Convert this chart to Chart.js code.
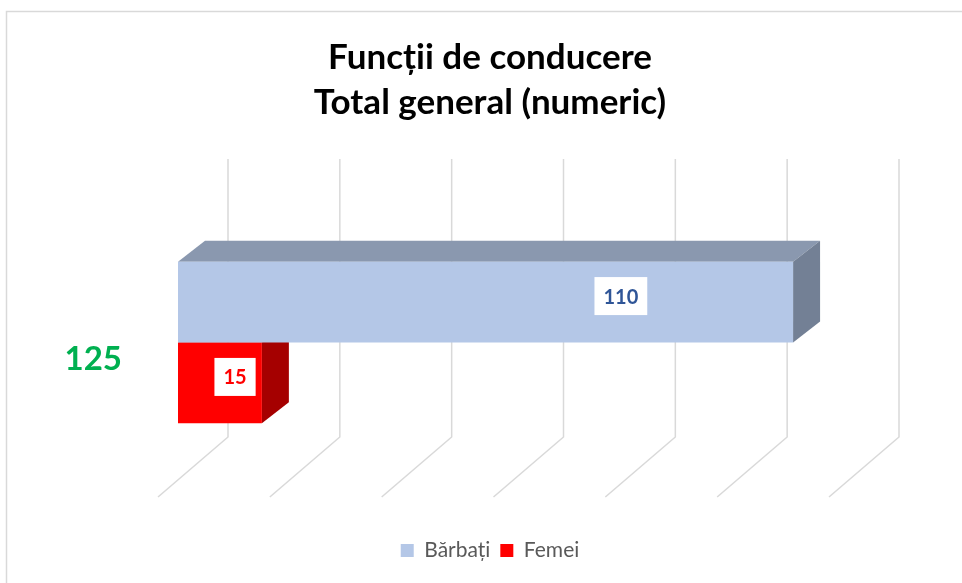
<!DOCTYPE html>
<html>
<head>
<meta charset="utf-8">
<script src="https://cdn.jsdelivr.net/npm/chart.js@4/dist/chart.umd.min.js"></script>
<style>
  html, body { margin: 0; padding: 0; background: #fff; }
  #wrap { width: 962px; height: 583px; }
</style>
</head>
<body>
<div id="wrap"><canvas id="chart" width="962" height="583"></canvas></div>
<script>
// data
const categories = ['125'];
const seriesNames = ['Bărbați', 'Femei'];
const barbati = [110];
const femei = [15];
const axisMax = 120;
const axisStep = 20;

const FONT = "Lato, 'Noto Sans', sans-serif";

// colours of the faces: front, top, side
const faces = [
  { front: '#B4C7E7', top: '#8A98AF', side: '#738095', label: '#2F5597', labelPos: 0.72 },
  { front: '#FF0000', top: '#C00000', side: '#A50000', label: '#FF0000', labelPos: 0.68 }
];

// depth of the 3d effect
const DX = 27, DY = -21;

const frame = {
  id: 'frame',
  beforeDraw(chart) {
    const ctx = chart.ctx;
    ctx.save();
    ctx.fillStyle = '#fff';
    ctx.fillRect(0, 0, chart.width, chart.height);
    ctx.strokeStyle = '#D9D9D9';
    ctx.lineWidth = 1.5;
    ctx.strokeRect(6.5, 11.5, 1200, 1200);
    ctx.restore();
  }
};

const grid3d = {
  id: 'grid3d',
  beforeDatasetsDraw(chart) {
    const ctx = chart.ctx;
    const xs = chart.scales.x;
    const area = chart.chartArea;
    const wallTop = area.top - 61, wallBottom = area.bottom - 28, floorFront = area.bottom + 32;
    ctx.save();
    ctx.strokeStyle = '#D9D9D9';
    ctx.lineWidth = 1.5;
    xs.ticks.forEach(t => {
      const px = xs.getPixelForValue(t.value);
      ctx.beginPath();
      ctx.moveTo(px + 50, wallTop);
      ctx.lineTo(px + 50, wallBottom);
      ctx.lineTo(px - 20, floorFront);
      ctx.stroke();
    });
    // top and side faces of the bars
    for (let d = chart.data.datasets.length - 1; d >= 0; d--) {
      const meta = chart.getDatasetMeta(d);
      meta.data.forEach(el => {
        const top = el.y - el.height / 2, bottom = el.y + el.height / 2;
        ctx.fillStyle = faces[d].top;
        ctx.beginPath();
        ctx.moveTo(el.base, top);
        ctx.lineTo(el.base + DX, top + DY);
        ctx.lineTo(el.x + DX, top + DY);
        ctx.lineTo(el.x, top);
        ctx.closePath();
        ctx.fill();
        ctx.fillStyle = faces[d].side;
        ctx.beginPath();
        ctx.moveTo(el.x, top);
        ctx.lineTo(el.x + DX, top + DY);
        ctx.lineTo(el.x + DX, bottom + DY);
        ctx.lineTo(el.x, bottom);
        ctx.closePath();
        ctx.fill();
      });
    }
    ctx.restore();
  }
};

const valueLabels = {
  id: 'valueLabels',
  afterDatasetsDraw(chart) {
    const ctx = chart.ctx;
    ctx.save();
    ctx.font = 'bold 20px ' + FONT;
    ctx.textAlign = 'center';
    ctx.textBaseline = 'middle';
    chart.data.datasets.forEach((ds, d) => {
      chart.getDatasetMeta(d).data.forEach((el, i) => {
        const txt = String(ds.data[i]);
        const cx = el.base + (el.x - el.base) * faces[d].labelPos;
        const cy = el.y - 6;
        const w = ctx.measureText(txt).width + 18;
        const h = 38;
        ctx.fillStyle = '#fff';
        ctx.fillRect(cx - w / 2, cy - h / 2, w, h);
        ctx.fillStyle = faces[d].label;
        ctx.fillText(txt, cx, cy + 1);
      });
    });
    ctx.restore();
  }
};

new Chart(document.getElementById('chart'), {
  type: 'bar',
  data: {
    labels: categories,
    datasets: [
      { label: seriesNames[0], data: barbati, backgroundColor: faces[0].front },
      { label: seriesNames[1], data: femei, backgroundColor: faces[1].front }
    ]
  },
  options: {
    indexAxis: 'y',
    responsive: false,
    animation: false,
    categoryPercentage: 0.66,
    barPercentage: 1,
    layout: { padding: { top: 0, left: 18, right: 0, bottom: 12 } },
    plugins: {
      title: {
        display: true,
        text: ['Funcții de conducere', 'Total general (numeric)'],
        color: '#000',
        font: { family: FONT, size: 35, weight: 'bold', lineHeight: '45px' },
        padding: { top: 35, bottom: 95 }
      },
      legend: {
        position: 'bottom',
        labels: {
          color: '#595959',
          font: { family: FONT, size: 21 },
          boxWidth: 13,
          boxHeight: 13,
          padding: 10
        }
      },
      tooltip: { enabled: false }
    },
    scales: {
      x: {
        min: 0,
        max: axisMax,
        ticks: { display: false, stepSize: axisStep },
        grid: { display: false },
        border: { display: false },
        afterFit(s) { s.height = 65; }
      },
      y: {
        grid: { display: false, drawTicks: false },
        border: { display: false },
        ticks: {
          color: '#00B050',
          font: { family: FONT, size: 33, weight: 'bold' },
          padding: 56,
          labelOffset: 17
        },
        afterFit(s) { s.width = 160; }
      },
      // empty space right of the plot
      pad: {
        axis: 'y',
        position: 'right',
        ticks: { display: false },
        grid: { display: false },
        border: { display: false },
        afterFit(s) { s.width = 113; }
      }
    }
  },
  plugins: [frame, grid3d, valueLabels]
});
</script>
</body>
</html>
